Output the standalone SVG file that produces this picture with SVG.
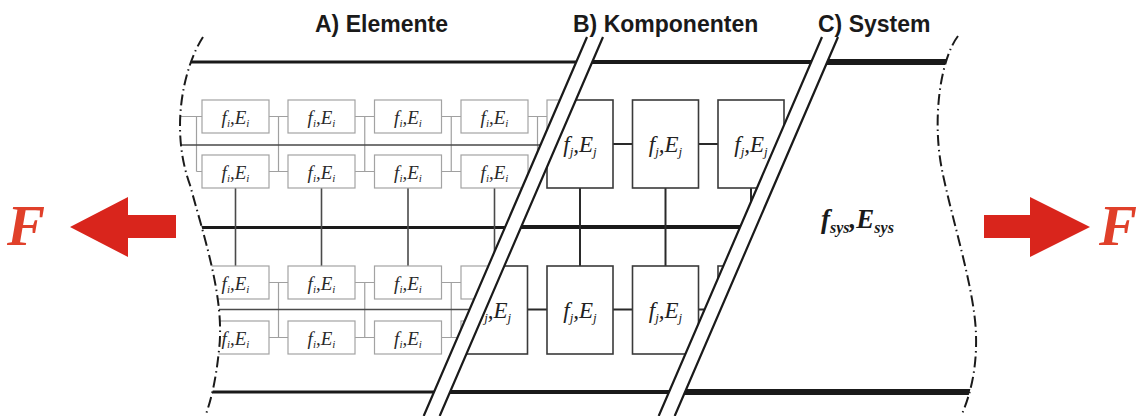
<svg xmlns="http://www.w3.org/2000/svg" width="1143" height="416" viewBox="0 0 1143 416">
  <style>
    .lbl { font-family: "Liberation Sans", Arial, sans-serif; font-weight: bold; font-size: 23px; fill: #1a1a1a; }
    .el { fill: #fff; stroke: #a3a3a3; stroke-width: 1.2; }
    .et { font-family: "Liberation Serif", "Times New Roman", serif; font-style: italic; font-size: 19px; fill: #2a2a2a; text-anchor: middle; }
    .et .s { font-size: 11px; }
    .co { fill: #fff; stroke: #3a3a3a; stroke-width: 1.6; }
    .ct { font-family: "Liberation Serif", "Times New Roman", serif; font-style: italic; font-size: 23px; fill: #222; text-anchor: middle; }
    .ct .s { font-size: 13px; }
    .sys { font-family: "Liberation Serif", "Times New Roman", serif; font-style: italic; font-weight: bold; font-size: 27px; fill: #1a1a1a; }
    .sys .s { font-size: 16px; }
    .wire-lt { fill: none; stroke: #a0a0a0; stroke-width: 1.2; }
    .wire-dk { fill: none; stroke: #4a4a4a; stroke-width: 1.6; }
    .wire-co { fill: none; stroke: #2a2a2a; stroke-width: 2; }
    .bar { stroke: #1a1a1a; fill: none; }
    .cut-edge { stroke: #1a1a1a; stroke-width: 2.2; fill: none; }
    .bound { fill: none; stroke: #1a1a1a; stroke-width: 2; stroke-dasharray: 11 4 1.5 4; }
    .force { fill: #d9251c; }
    .F { font-family: "Liberation Serif", "Times New Roman", serif; font-style: italic; font-weight: bold; font-size: 57px; fill: #e0402a; }
  </style>
  <defs>
    <!-- region left of the first cut, bounded by the left free edge -->
    <clipPath id="clipA">
      <path d="M203,0 L203,37 C183,68 170,130 190,185 C205,240 225,300 219,350 C216,380 211,400 206,414 L206,416 L431.7,416 L610.9,0 Z"/>
    </clipPath>
    <!-- region between the two cuts -->
    <clipPath id="clipB">
      <path d="M610.9,0 L431.7,416 L666.7,416 L845.9,0 Z"/>
    </clipPath>
    <!-- region right of the second cut, bounded by the right free edge -->
    <clipPath id="clipC">
      <path d="M845.9,0 L666.7,416 L962,416 L962,414 C970,395 977,370 976,335 C975,290 952,220 942,170 C932,120 940,60 958,36 L958,0 Z"/>
    </clipPath>
  </defs>

  <!-- section headings -->
  <g id="headings">
    <text class="lbl" x="315" y="32">A) Elemente</text>
    <text class="lbl" x="573" y="32">B) Komponenten</text>
    <text class="lbl" x="818" y="32">C) System</text>
  </g>

  <!-- A) element level -->
  <g id="level-elements" clip-path="url(#clipA)">
    <g id="connectors-elements">
      <path class="bar" stroke-width="3" d="M170,62H620M170,227.5H620M170,392H620"/>
      <path class="wire-lt" d="M170,116.5H202M269,116.5H288M355,116.5H374.5M441.5,116.5H461M528,116.5H547M614,116.5H630
        M196.5,171.5H202M269,171.5H288M355,171.5H374.5M441.5,171.5H461M528,171.5H547
        M196.5,116.5V171.5M278.5,116.5V171.5M364.75,116.5V171.5M451.25,116.5V171.5M537.5,116.5V171.5
        M170,282.5H202M269,282.5H288M355,282.5H374.5M441.5,282.5H461M528,282.5H547
        M170,337.5H202M269,337.5H288M355,337.5H374.5M441.5,337.5H461M528,337.5H547
        M196.5,282.5V337.5M278.5,282.5V337.5M364.75,282.5V337.5M451.25,282.5V337.5M537.5,282.5V337.5"/>
      <path class="wire-dk" d="M170,145H620M170,309.5H620
        M235.5,188V266M321.5,188V266M408,188V266M494.5,188V266"/>
    </g>
    <g id="el-r1-c1"><rect class="el" x="202" y="100" width="67" height="33"/><text class="et" x="235.5" y="123.5">f<tspan class="s" dy="3">i</tspan><tspan dy="-3">,E</tspan><tspan class="s" dy="3">i</tspan></text></g>
    <g id="el-r1-c2"><rect class="el" x="288" y="100" width="67" height="33"/><text class="et" x="321.5" y="123.5">f<tspan class="s" dy="3">i</tspan><tspan dy="-3">,E</tspan><tspan class="s" dy="3">i</tspan></text></g>
    <g id="el-r1-c3"><rect class="el" x="374.5" y="100" width="67" height="33"/><text class="et" x="408" y="123.5">f<tspan class="s" dy="3">i</tspan><tspan dy="-3">,E</tspan><tspan class="s" dy="3">i</tspan></text></g>
    <g id="el-r1-c4"><rect class="el" x="461" y="100" width="67" height="33"/><text class="et" x="494.5" y="123.5">f<tspan class="s" dy="3">i</tspan><tspan dy="-3">,E</tspan><tspan class="s" dy="3">i</tspan></text></g>
    <g id="el-r1-c5"><rect class="el" x="547" y="100" width="67" height="33"/></g>
    <g id="el-r2-c1"><rect class="el" x="202" y="155" width="67" height="33"/><text class="et" x="235.5" y="178.5">f<tspan class="s" dy="3">i</tspan><tspan dy="-3">,E</tspan><tspan class="s" dy="3">i</tspan></text></g>
    <g id="el-r2-c2"><rect class="el" x="288" y="155" width="67" height="33"/><text class="et" x="321.5" y="178.5">f<tspan class="s" dy="3">i</tspan><tspan dy="-3">,E</tspan><tspan class="s" dy="3">i</tspan></text></g>
    <g id="el-r2-c3"><rect class="el" x="374.5" y="155" width="67" height="33"/><text class="et" x="408" y="178.5">f<tspan class="s" dy="3">i</tspan><tspan dy="-3">,E</tspan><tspan class="s" dy="3">i</tspan></text></g>
    <g id="el-r2-c4"><rect class="el" x="461" y="155" width="67" height="33"/><text class="et" x="494.5" y="178.5">f<tspan class="s" dy="3">i</tspan><tspan dy="-3">,E</tspan><tspan class="s" dy="3">i</tspan></text></g>
    <g id="el-r3-c1"><rect class="el" x="202" y="266" width="67" height="33"/><text class="et" x="235.5" y="289.5">f<tspan class="s" dy="3">i</tspan><tspan dy="-3">,E</tspan><tspan class="s" dy="3">i</tspan></text></g>
    <g id="el-r3-c2"><rect class="el" x="288" y="266" width="67" height="33"/><text class="et" x="321.5" y="289.5">f<tspan class="s" dy="3">i</tspan><tspan dy="-3">,E</tspan><tspan class="s" dy="3">i</tspan></text></g>
    <g id="el-r3-c3"><rect class="el" x="374.5" y="266" width="67" height="33"/><text class="et" x="408" y="289.5">f<tspan class="s" dy="3">i</tspan><tspan dy="-3">,E</tspan><tspan class="s" dy="3">i</tspan></text></g>
    <g id="el-r3-c4"><rect class="el" x="461" y="266" width="67" height="33"/><text class="et" x="494.5" y="289.5">f<tspan class="s" dy="3">i</tspan><tspan dy="-3">,E</tspan><tspan class="s" dy="3">i</tspan></text></g>
    <g id="el-r4-c1"><rect class="el" x="202" y="321" width="67" height="33"/><text class="et" x="235.5" y="344.5">f<tspan class="s" dy="3">i</tspan><tspan dy="-3">,E</tspan><tspan class="s" dy="3">i</tspan></text></g>
    <g id="el-r4-c2"><rect class="el" x="288" y="321" width="67" height="33"/><text class="et" x="321.5" y="344.5">f<tspan class="s" dy="3">i</tspan><tspan dy="-3">,E</tspan><tspan class="s" dy="3">i</tspan></text></g>
    <g id="el-r4-c3"><rect class="el" x="374.5" y="321" width="67" height="33"/><text class="et" x="408" y="344.5">f<tspan class="s" dy="3">i</tspan><tspan dy="-3">,E</tspan><tspan class="s" dy="3">i</tspan></text></g>
    <g id="el-r4-c4"><rect class="el" x="461" y="321" width="67" height="33"/></g>
  </g>

  <!-- B) component level -->
  <g id="level-components" clip-path="url(#clipB)">
    <g id="connectors-components">
      <path class="bar" stroke-width="4" d="M420,62H860M420,227H860M420,392H860"/>
      <path class="wire-co" d="M613,144H632.5M698.5,144H718
        M527.5,309.5H547M613,309.5H632.5M698.5,309.5H718
        M580,188V266M665.5,188V266M751,188V266"/>
    </g>
    <g id="co-r1-c1"><rect class="co" x="547" y="100" width="66" height="88"/><text class="ct" x="580" y="152">f<tspan class="s" dy="4">j</tspan><tspan dy="-4">,E</tspan><tspan class="s" dy="4">j</tspan></text></g>
    <g id="co-r1-c2"><rect class="co" x="632.5" y="100" width="66" height="88"/><text class="ct" x="665.5" y="152">f<tspan class="s" dy="4">j</tspan><tspan dy="-4">,E</tspan><tspan class="s" dy="4">j</tspan></text></g>
    <g id="co-r1-c3"><rect class="co" x="718" y="100" width="66" height="88"/><text class="ct" x="751" y="152">f<tspan class="s" dy="4">j</tspan><tspan dy="-4">,E</tspan><tspan class="s" dy="4">j</tspan></text></g>
    <g id="co-r2-c0"><rect class="co" x="461.5" y="266" width="66" height="88"/><text class="ct" x="494.5" y="318">f<tspan class="s" dy="4">j</tspan><tspan dy="-4">,E</tspan><tspan class="s" dy="4">j</tspan></text></g>
    <g id="co-r2-c1"><rect class="co" x="547" y="266" width="66" height="88"/><text class="ct" x="580" y="318">f<tspan class="s" dy="4">j</tspan><tspan dy="-4">,E</tspan><tspan class="s" dy="4">j</tspan></text></g>
    <g id="co-r2-c2"><rect class="co" x="632.5" y="266" width="66" height="88"/><text class="ct" x="665.5" y="318">f<tspan class="s" dy="4">j</tspan><tspan dy="-4">,E</tspan><tspan class="s" dy="4">j</tspan></text></g>
    <g id="co-r2-c3"><rect class="co" x="718" y="266" width="66" height="88"/></g>
  </g>

  <!-- C) system level -->
  <g id="level-system" clip-path="url(#clipC)">
    <path class="bar" stroke-width="6" d="M650,62H1000M650,392H1000"/>
  </g>
  <g id="system">
    <text class="sys" x="821" y="228">f<tspan class="s" dy="5">sys</tspan><tspan dy="-5">,E</tspan><tspan class="s" dy="5">sys</tspan></text>
  </g>

  <!-- section cuts -->
  <g id="cuts">
    <polygon fill="#fff" points="587,37 603,37 439.7,416 423.7,416"/>
    <path class="cut-edge" d="M587,37L423.7,416M603,37L439.7,416"/>
    <polygon fill="#fff" points="822,37 838,37 674.7,416 658.7,416"/>
    <path class="cut-edge" d="M822,37L658.7,416M838,37L674.7,416"/>
  </g>

  <!-- free edges of the specimen -->
  <g id="boundaries">
    <path class="bound" d="M203,37 C183,68 170,130 190,185 C205,240 225,300 219,350 C216,380 211,400 206,414"/>
    <path class="bound" d="M958,36 C940,60 932,120 942,170 C952,220 975,290 976,335 C977,370 970,395 962,414"/>
  </g>

  <!-- applied load -->
  <g id="force-left">
    <polygon class="force" points="70,227 128,197 128,215 176,215 176,238 128,238 128,257"/>
    <text class="F" x="7" y="245">F</text>
  </g>
  <g id="force-right">
    <polygon class="force" points="984,215 1030,215 1030,197 1090,227 1030,257 1030,238 984,238"/>
    <text class="F" x="1099" y="245">F</text>
  </g>
</svg>
